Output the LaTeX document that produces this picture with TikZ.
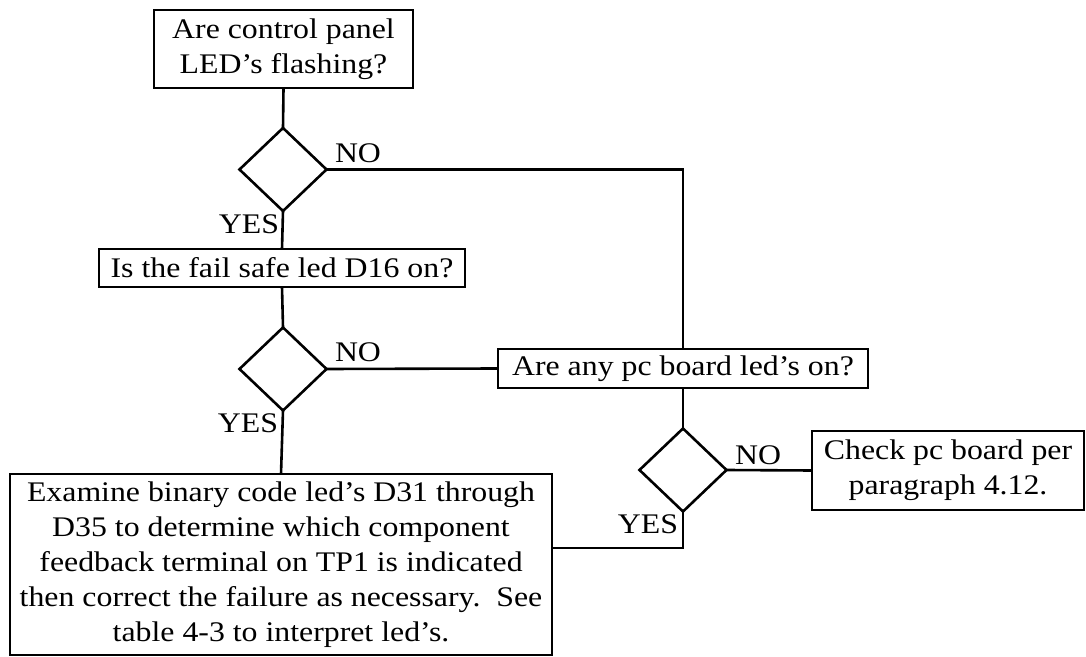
\documentclass[tikz,border=0pt]{standalone}
\usepackage{fontspec}
\setmainfont{Liberation Serif}[FakeStretch=1.12]
\usetikzlibrary{shapes.geometric}
\begin{document}
\begin{tikzpicture}[x=0.5pt,y=-0.5pt,
  every node/.style={inner sep=0pt, outer sep=0pt},
  txt/.style={font=\fontsize{14.2}{17.5}\selectfont, align=center},
  box/.style={draw, line width=1.3pt, txt},
  decision/.style={draw, line width=1.3pt, diamond, minimum width=43.5pt, minimum height=41.5pt},
  lbl/.style={font=\fontsize{14.2}{15}\selectfont},
  link/.style={line width=1.3pt}]
\useasboundingbox (0,0) rectangle (1086,657);

% boxes
\node[box, minimum width=129.5pt, minimum height=39pt] (q1) at (283.5,49) {Are control panel\\LED's flashing?};
\node[box, minimum width=183pt, minimum height=19pt] (q2) at (282,268) {Is the fail safe led D16 on?};
\node[box, minimum width=185pt, minimum height=19.5pt] (q3) at (683,368.5) {Are any pc board led's on?};
\node[box, minimum width=136pt, minimum height=39.5pt] (chk) at (948,470.5) {Check pc board per\\paragraph 4.12.};
\node[box, minimum width=271pt, minimum height=90.5pt] (exam) at (281,564.5) {Examine binary code led's D31 through\\D35 to determine which component\\feedback terminal on TP1 is indicated\\then correct the failure as necessary.\ \ See\\table 4-3 to interpret led's.};

% decisions
\node[decision] (d1) at (283,169.5) {};
\node[decision] (d2) at (283,369) {};
\node[decision] (d3) at (683,470) {};

% branch labels
\node[lbl] at (358,153) {NO};
\node[lbl] at (249,224) {YES};
\node[lbl] at (358,352) {NO};
\node[lbl] at (248,423) {YES};
\node[lbl] at (758,455) {NO};
\node[lbl] at (648,524) {YES};

\coordinate (yesin) at (exam.east |- 0,548);

% connectors
\draw[link] (q1.south) -- (d1.north);
\draw[link] (d1.south) -- (q2.north);
\draw[link] (d1.east) -| (q3.north);
\draw[link] (q2.south) -- (d2.north);
\draw[link] (d2.east) -- (q3.west);
\draw[link] (d2.south) -- (exam.north);
\draw[link] (q3.south) -- (d3.north);
\draw[link] (d3.east) -- (chk.west);
\draw[link] (d3.south) |- (yesin);
\end{tikzpicture}
\end{document}
